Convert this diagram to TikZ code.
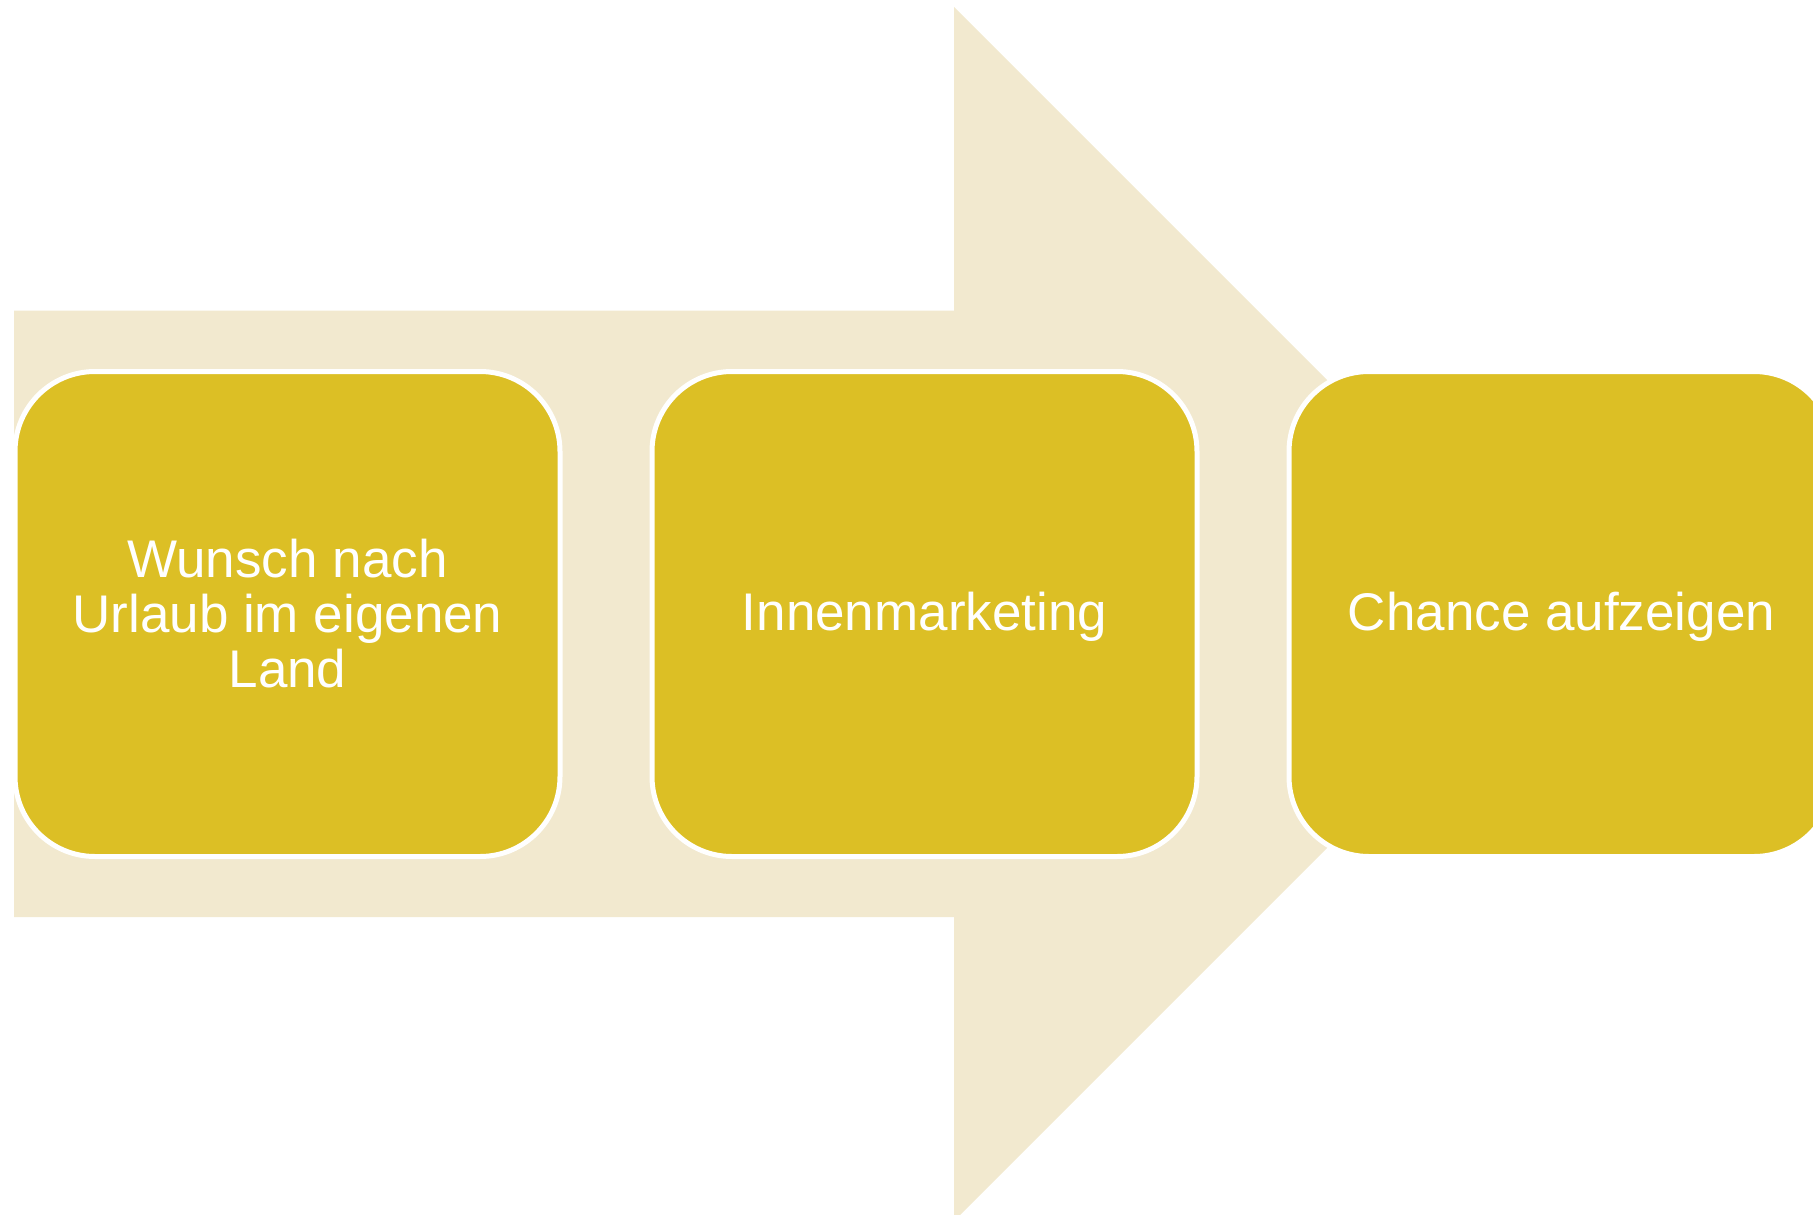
\documentclass[tikz,border=0pt]{standalone}
\usepackage{fontspec}
\setmainfont{Liberation Sans}
\definecolor{arrowbeige}{HTML}{F2E9CF}
\definecolor{boxgold}{HTML}{DCBF25}
\begin{document}
\begin{tikzpicture}[x=1pt,y=-1pt,
  stepbox/.style={draw=white, line width=5pt, fill=boxgold, rounded corners=80pt,
    minimum width=545pt, minimum height=485pt, inner sep=0pt, align=center,
    text=white, font=\fontsize{53}{55}\selectfont},
  oneline/.style={text height=38.7pt, text depth=6.5pt}]
\useasboundingbox (0,0) rectangle (1813,1215);
\fill[arrowbeige] (14,310.7) -- (954,310.7) -- (954,7) -- (1561,614) -- (954,1221) -- (954,917) -- (14,917) -- cycle;
\node[stepbox] (b1) at (287.5,614) {Wunsch nach\\Urlaub im eigenen\\Land};
\node[stepbox, oneline] (b2) at (924.5,614) {Innenmarketing};
\node[stepbox, oneline] (b3) at (1561.5,614) {Chance aufzeigen};
\end{tikzpicture}
\end{document}
